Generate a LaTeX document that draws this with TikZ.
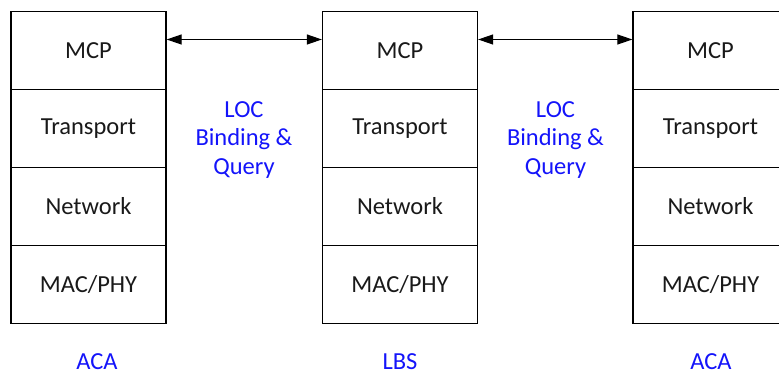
\documentclass[tikz,border=0pt]{standalone}
\usepackage{fontspec}
\setmainfont{Carlito}
\usetikzlibrary{arrows.meta}
\definecolor{labelblue}{RGB}{20,20,250}
\tikzset{
  layer/.style={draw=black, line width=1.3pt, minimum width=155pt, minimum height=78pt,
    inner sep=0pt, font=\fontsize{24.5}{29}\selectfont, text=black!90},
  bluelabel/.style={text=labelblue, font=\fontsize{24.5}{28.3}\selectfont, align=center, inner sep=0pt},
  stackname/.style={text=labelblue, font=\fontsize{24.5}{26}\selectfont, inner sep=0pt},
  link/.style={line width=1.1pt, {Triangle[length=15pt,width=10pt]}-{Triangle[length=15pt,width=10pt]}},
}
\begin{document}
\begin{tikzpicture}[x=1pt,y=-1pt]
  \useasboundingbox (0,0) rectangle (779,371);
  % three protocol stacks
  \foreach \name/\cx in {a/88.5, b/400, c/710.5} {
    \node[layer] (\name1) at (\cx,50.5) {MCP};
    \node[layer] (\name2) at (\cx,128.5) {Transport};
    \node[layer] (\name3) at (\cx,206.5) {Network};
    \node[layer] (\name4) at (\cx,284.5) {MAC/PHY};
  }
  % peer links between the MCP layers
  \coordinate (la) at ([yshift=11pt]a1.east);
  \coordinate (lb) at ([yshift=11pt]b1.west);
  \coordinate (lc) at ([yshift=11pt]b1.east);
  \coordinate (ld) at ([yshift=11pt]c1.west);
  \draw[link] (la) -- (lb);
  \draw[link] (lc) -- (ld);
  \node[bluelabel] (q1) at (244,140) {LOC\\Binding \&\\Query};
  \node[bluelabel] (q2) at (555.5,140) {LOC\\Binding \&\\Query};
  % stack names
  \node[stackname] (n1) at (97,361.5) {ACA};
  \node[stackname] (n2) at (400,361.5) {LBS};
  \node[stackname] (n3) at (711,361.5) {ACA};
\end{tikzpicture}
\end{document}
